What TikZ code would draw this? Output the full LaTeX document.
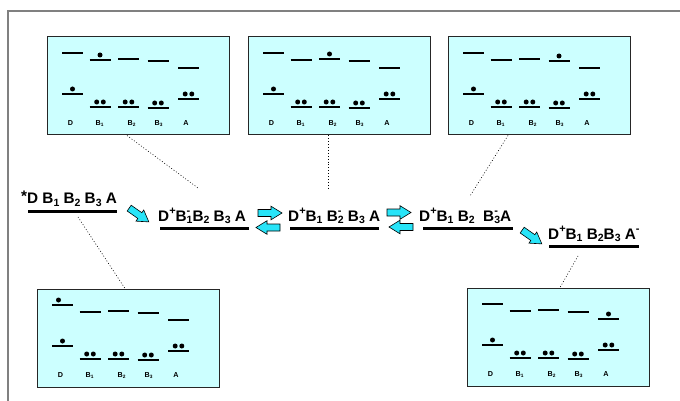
\documentclass[tikz,border=0pt]{standalone}
\usepackage{fontspec}
\setmainfont{Liberation Sans}
\definecolor{boxfill}{HTML}{CCFFFF}
\definecolor{arrcyan}{RGB}{40,228,248}
\definecolor{framegray}{HTML}{808080}
\newcommand\sbx[1]{\raisebox{-0.3ex}{\fontsize{10.5}{10.5}\selectfont #1}}
\newcommand\spx[1]{\raisebox{0.85ex}{\fontsize{11}{11}\selectfont #1}}
\newcommand\ssx[2]{\makebox[0pt][l]{\spx{#2}}\sbx{#1}}
\newcommand\bsb[1]{\raisebox{-0.3ex}{\fontsize{4.8}{4.8}\selectfont #1}}
\tikzset{
  lev/.style={line width=2pt},
  ul/.style={line width=3pt},
  ebx/.style={draw=black!85, line width=1pt, fill=boxfill, minimum width=182pt, minimum height=98pt, inner sep=0pt},
  blab/.style={font=\fontsize{7.2}{7.2}\selectfont\bfseries, inner sep=0pt},
  ml/.style={font=\fontsize{15.3}{17}\selectfont\bfseries, inner sep=0pt, anchor=base west},
  dotl/.style={line width=0.6pt, dash pattern=on 0.9pt off 2pt},
  arr/.style={fill=arrcyan, draw=black, line width=0.6pt, line join=miter},
  pics/barrow/.style={code={
    \filldraw[arr] (-12,-3.5) -- (1,-3.5) -- (1,-6.8) -- (12,0) -- (1,6.8) -- (1,3.5) -- (-12,3.5) -- cycle;
  }},
  pics/ebox/.style={code={
    \node[ebx] (-b) at (91,49) {};
    \foreach \xa/\xb/\yu/\yl in {15/36/16/57, 42.5/63.5/23/70, 71/92/22/70, 100.5/121.5/24/71, 131/152/31/62} {
      \draw[lev] (\xa,\yu) -- (\xb,\yu);
      \draw[lev] (\xa,\yl) -- (\xb,\yl);
    }
    \fill (25.5,52) circle (2.5pt);
    \foreach \cx/\yl in {53/70, 81.5/70, 111/71, 141.5/62} {
      \fill (\cx-3.3,\yl-5) circle (2.5pt);
      \fill (\cx+3.3,\yl-5) circle (2.5pt);
    }
    \ifcase#1
      \fill (21.5,11) circle (2.5pt);
    \or
      \fill (53,18) circle (2.5pt);
    \or
      \fill (81.5,17) circle (2.5pt);
    \or
      \fill (111,19) circle (2.5pt);
    \or
      \fill (141.5,26) circle (2.5pt);
    \fi
    \node[blab] (-l0) at (23.5,86.3) {D};
    \node[blab] (-l1) at (52.5,86.3) {B\bsb{1}};
    \node[blab] (-l2) at (84.5,86.3) {B\bsb{2}};
    \node[blab] (-l3) at (111.5,86.3) {B\bsb{3}};
    \node[blab] (-l4) at (139,86.3) {A};
  }}
}
\begin{document}
\begin{tikzpicture}[x=1pt,y=-1pt]
\useasboundingbox (0,0) rectangle (680,401);
% frame
\draw[framegray, line width=1.3pt] (680,11) -- (8,11) -- (8,401);
% boxes
\pic (b1) at (47,37) {ebox=1};
\pic (b2) at (248,37) {ebox=2};
\pic (b3) at (448,37) {ebox=3};
\pic (b4) at (37,289) {ebox=0};
\pic (b5) at (467,288) {ebox=4};
% labels
\node[ml] (l1) at (21,204) {\raisebox{.3ex}{*}D B\sbx{1} B\sbx{2} B\sbx{3} A};
\node[ml] (l2) at (158,221) {D\spx{+}B\ssx{1}{-}B\sbx{2} B\sbx{3} A};
\node[ml] (l3) at (288,221) {D\spx{+}B\sbx{1} B\ssx{2}{-} B\sbx{3} A};
\node[ml] (l4) at (419,221) {D\spx{+}B\sbx{1} B\sbx{2}\ \ B\ssx{3}{-}A};
\node[ml] (l5) at (548,239) {D\spx{+}B\sbx{1} B\sbx{2}B\sbx{3} A\spx{-}};
\draw[ul] (28,211) -- (117,211);
\draw[ul] (160,228) -- (249,228);
\draw[ul] (290,228) -- (379,228);
\draw[ul] (423,228) -- (513,228);
\draw[ul] (549,246) -- (639,246);
% arrows
\pic[rotate=-35] at (139,215) {barrow};
\pic at (270,213) {barrow};
\pic[rotate=180] at (268,227.5) {barrow};
\pic at (399,212.5) {barrow};
\pic[rotate=180] at (401,227) {barrow};
\pic[rotate=-35] at (532,237) {barrow};
% dotted connectors
\coordinate (e1) at (198,188);
\coordinate (e2) at (328,188);
\coordinate (e3) at (470,196);
\coordinate (s4) at (78,217);
\coordinate (s5) at (578,256);
\draw[dotl] ([xshift=-11pt]b1-b.south) -- (e1);
\draw[dotl] ([xshift=-11pt]b2-b.south) -- (e2);
\draw[dotl] ([xshift=-31pt]b3-b.south) -- (e3);
\draw[dotl] (s4) -- ([xshift=-3pt]b4-b.north);
\draw[dotl] (s5) -- ([xshift=2pt]b5-b.north);
\end{tikzpicture}
\end{document}
